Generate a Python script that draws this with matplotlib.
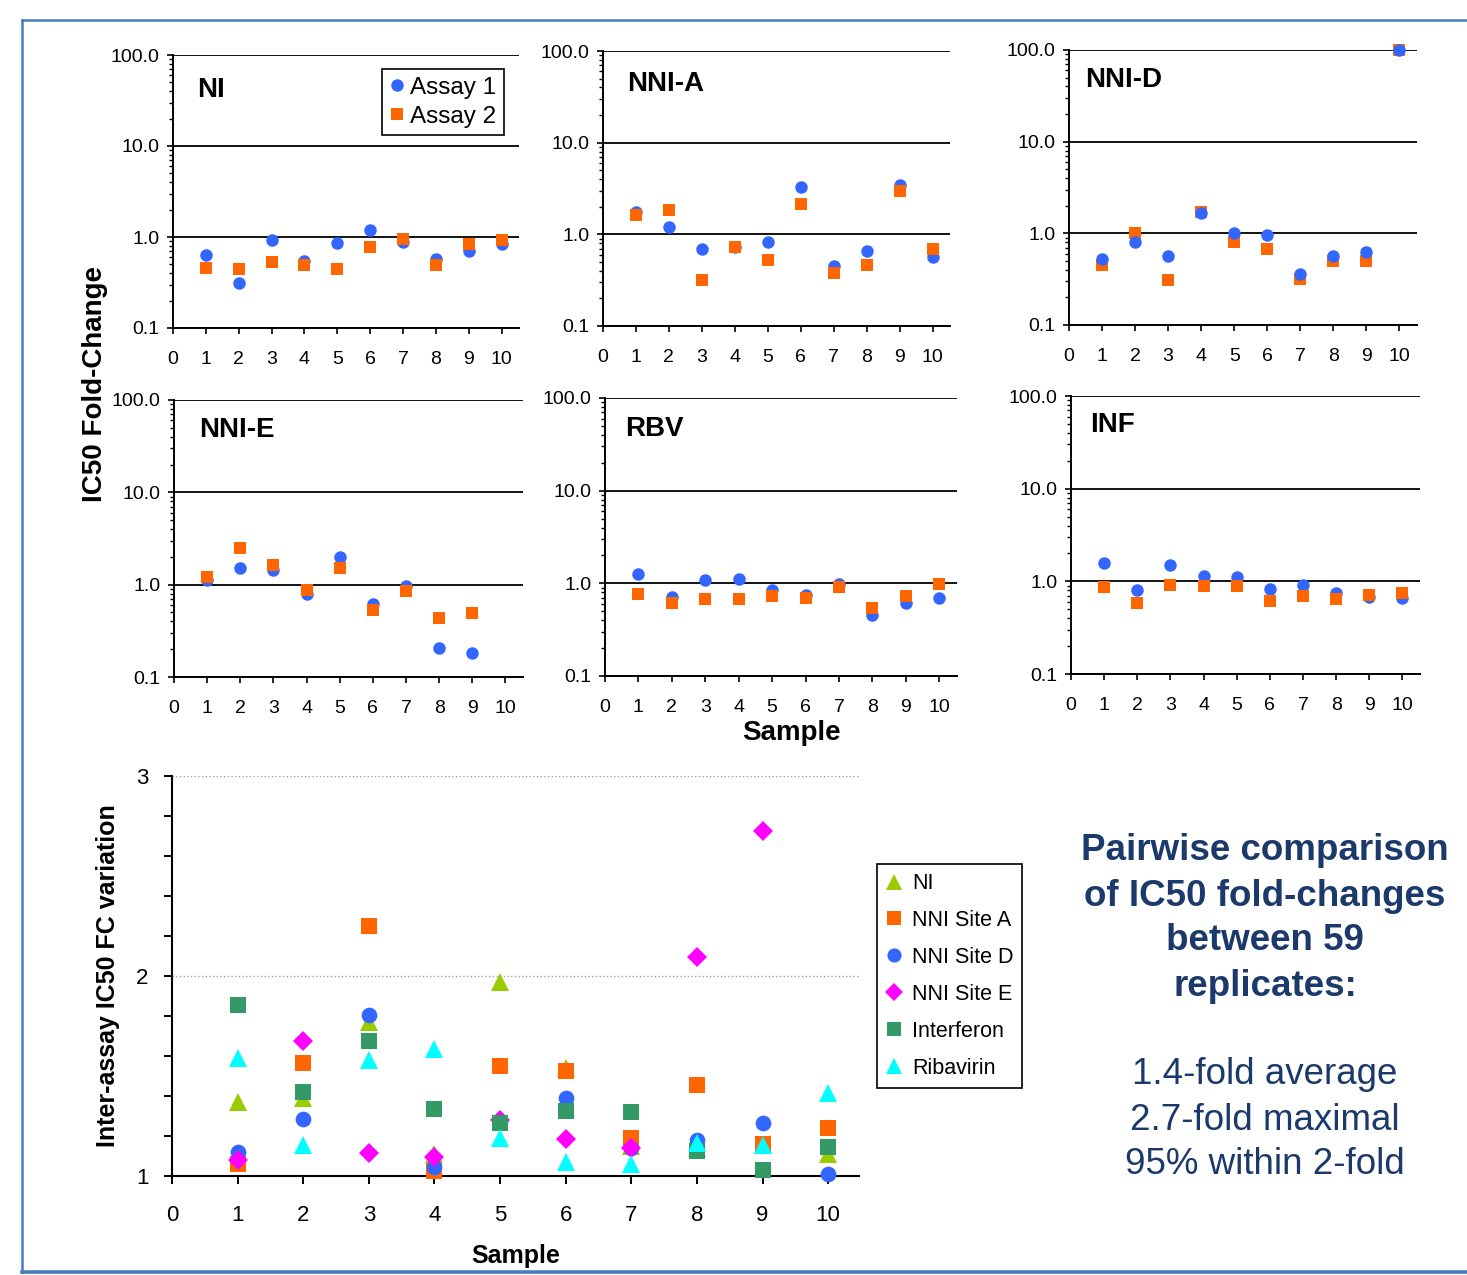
import numpy as np
import matplotlib
matplotlib.use("Agg")
import matplotlib.pyplot as plt
from matplotlib.lines import Line2D
from matplotlib.ticker import FixedLocator, FuncFormatter, NullFormatter

plt.rcParams['font.family'] = ['Liberation Sans', 'DejaVu Sans']

W, H = 1467, 1275

# ---- data: IC50 fold-change per sample, two assays ----
samples = [1, 2, 3, 4, 5, 6, 7, 8, 9, 10]

ni_assay1 = [0.63, 0.31, 0.93, 0.55, 0.85, 1.19, 0.89, 0.57, 0.71, 0.83]
ni_assay2 = [0.46, 0.44, 0.53, 0.49, 0.44, 0.78, 0.96, 0.49, 0.84, 0.93]

nnia_assay1 = [1.74, 1.21, 0.70, 0.73, 0.82, 3.28, 0.45, 0.66, 3.48, 0.57]
nnia_assay2 = [1.64, 1.86, 0.315, 0.73, 0.53, 2.14, 0.376, 0.46, 2.97, 0.70]

nnid_assay1 = [0.53, 0.80, 0.57, 1.65, 1.02, 0.95, 0.357, 0.57, 0.63, 100.0]
nnid_assay2 = [0.455, 1.01, 0.31, 1.70, 0.80, 0.67, 0.315, 0.50, 0.50, 100.0]

nnie_assay1 = [1.13, 1.50, 1.45, 0.80, 1.98, 0.62, 0.97, 0.208, 0.18]
nnie_assay2 = [1.22, 2.49, 1.63, 0.88, 1.50, 0.53, 0.85, 0.44, 0.49]

rbv_assay1 = [1.25, 0.71, 1.08, 1.11, 0.85, 0.75, 0.98, 0.45, 0.62, 0.69]
rbv_assay2 = [0.77, 0.61, 0.67, 0.67, 0.73, 0.69, 0.91, 0.545, 0.73, 0.98]

inf_assay1 = [1.56, 0.80, 1.51, 1.15, 1.12, 0.83, 0.91, 0.74, 0.67, 0.66]
inf_assay2 = [0.86, 0.58, 0.91, 0.88, 0.88, 0.62, 0.69, 0.65, 0.72, 0.75]

panel_names = ["NI", "NNI-A", "NNI-D", "NNI-E", "RBV", "INF"]
panel_assay1 = [ni_assay1, nnia_assay1, nnid_assay1, nnie_assay1, rbv_assay1, inf_assay1]
panel_assay2 = [ni_assay2, nnia_assay2, nnid_assay2, nnie_assay2, rbv_assay2, inf_assay2]

# ---- data: inter-assay variation ----
var_labels = ["NI", "NNI Site A", "NNI Site D", "NNI Site E", "Interferon", "Ribavirin"]
var_ni = [1.37, 1.39, 1.77, 1.11, 1.97, 1.54, 1.15, 1.14, 1.155, 1.11]
var_site_a = [1.06, 1.565, 2.25, 1.027, 1.55, 1.527, 1.19, 1.453, 1.158, 1.238]
var_site_d = [1.12, 1.287, 1.805, 1.043, 1.27, 1.39, 1.138, 1.18, 1.263, 1.008]
var_site_e = [1.08, 1.677, 1.117, 1.095, 1.28, 1.183, 1.138, 2.093, 2.725]
var_interferon = [1.853, 1.42, 1.677, 1.333, 1.263, 1.327, 1.318, 1.127, 1.03, 1.143]
var_ribavirin = [1.59, 1.155, 1.58, 1.635, 1.188, 1.068, 1.058, 1.163, 1.155, 1.413]
var_series = [var_ni, var_site_a, var_site_d, var_site_e, var_interferon, var_ribavirin]

# ---- layout / style ----
blue = "#3366ff"
orange = "#ff6600"
var_colors = ["#99cc00", "#ff6600", "#3366ff", "#ff00ff", "#339966", "#00ffff"]
var_markers = ["^", "s", "o", "D", "s", "^"]
var_sizes = [12.5, 11.3, 11.3, 10.5, 11.3, 12.5]
navy = "#1b3a6b"

# (left, top, right, bottom) in pixels
panel_boxes = [(173, 55, 519, 328), (603, 51, 950, 326), (1069, 50, 1417, 325),
               (174, 400, 523, 677), (605, 398, 957, 676), (1071, 396, 1420, 674)]
title_pos = [(0.07, 0.87), (0.07, 0.88), (0.046, 0.89),
             (0.072, 0.89), (0.057, 0.89), (0.054, 0.895)]


def add_px_axes(fig, box):
    l, t, r, b = box
    return fig.add_axes([l / W, 1 - b / H, (r - l) / W, (b - t) / H])


fig = plt.figure(figsize=(W / 100, H / 100), dpi=100)

for i, name in enumerate(panel_names):
    ax = add_px_axes(fig, panel_boxes[i])
    a1 = panel_assay1[i]
    a2 = panel_assay2[i]
    ax.plot(samples[:len(a1)], a1, 'o', color=blue, ms=9, mew=0, label="Assay 1",
            clip_on=False, zorder=3)
    ax.plot(samples[:len(a2)], a2, 's', color=orange, ms=8.3, mew=0, label="Assay 2",
            clip_on=False, zorder=3 if name != "NNI-D" else 2.5)
    ax.set_yscale('log')
    ax.set_ylim(0.1, 100)
    ax.set_xlim(0, 10.53)
    ax.yaxis.set_major_locator(FixedLocator([0.1, 1, 10, 100]))
    ax.yaxis.set_major_formatter(FuncFormatter(lambda v, p: "%.1f" % v))
    minors = [m * d for d in (0.1, 1, 10) for m in range(2, 10)]
    ax.yaxis.set_minor_locator(FixedLocator(minors))
    ax.yaxis.set_minor_formatter(NullFormatter())
    ax.set_xticks(range(0, 11))
    ax.tick_params(axis='x', direction='out', length=4.5, width=1.2, labelsize=14, pad=12)
    ax.tick_params(axis='y', which='major', direction='out', length=4.5, width=1.2,
                   labelsize=14, pad=5)
    ax.tick_params(axis='y', which='minor', direction='out', length=3.2, width=1.0)
    ax.grid(True, axis='y', which='major', color='black', lw=1.3)
    ax.set_axisbelow(True)
    for s in ('top', 'right'):
        ax.spines[s].set_visible(False)
    for s in ('left', 'bottom'):
        ax.spines[s].set_linewidth(1.4)
    ax.text(title_pos[i][0], title_pos[i][1], name, transform=ax.transAxes,
            fontsize=20, fontweight='bold', ha='left', va='center')
    if i == 0:
        leg = ax.legend(loc='upper right', bbox_to_anchor=(0.957, 0.949), fontsize=17.5,
                        frameon=True, fancybox=False, edgecolor='black', framealpha=1,
                        handlelength=0.6, handletextpad=0.25, borderpad=0.32,
                        labelspacing=0.28, borderaxespad=0, markerscale=1.0)
        leg.get_frame().set_linewidth(1.2)

fig.text(95 / W, 1 - 384 / H, "IC50 Fold-Change", rotation=90, fontsize=20,
         fontweight='bold', ha='center', va='center')
fig.text(791 / W, 1 - 733 / H, "Sample", fontsize=20, fontweight='bold',
         ha='center', va='center')

# ---- bottom chart ----
bx = add_px_axes(fig, (172, 776, 859, 1176))
for vals, lab, c, m, ms in zip(var_series, var_labels, var_colors, var_markers, var_sizes):
    bx.plot(samples[:len(vals)], vals, m, color=c, ms=ms, mew=0, label=lab,
            clip_on=False, zorder=3)
bx.set_xlim(0, 10.47)
bx.set_ylim(1, 3)
bx.set_xticks(range(0, 11))
bx.set_yticks([1, 2, 3])
bx.yaxis.set_minor_locator(FixedLocator([1.2, 1.4, 1.6, 1.8, 2.2, 2.4, 2.6, 2.8]))
bx.tick_params(axis='x', direction='out', length=6, width=1.4, labelsize=16, pad=15)
bx.tick_params(axis='y', which='both', direction='out', length=6, width=1.4,
               labelsize=16, pad=11)
bx.grid(True, axis='y', which='major', color='#a0a0a0', lw=1.0, ls=':')
bx.set_axisbelow(True)
for s in ('top', 'right'):
    bx.spines[s].set_visible(False)
for s in ('left', 'bottom'):
    bx.spines[s].set_linewidth(1.5)

fig.text(516 / W, 1 - 1256 / H, "Sample", fontsize=18, fontweight='bold',
         ha='center', va='center')
fig.text(108 / W, 1 - 976 / H, "Inter-assay IC50 FC variation", rotation=90,
         fontsize=18, fontweight='bold', ha='center', va='center')

leg2 = bx.legend(loc='upper left', bbox_to_anchor=(877 / W, 1 - 864 / H),
                 bbox_transform=fig.transFigure, fontsize=15.5, frameon=True,
                 fancybox=False, edgecolor='black', framealpha=1, handlelength=0.7,
                 handletextpad=0.5, borderpad=0.42, labelspacing=0.74,
                 borderaxespad=0, markerscale=0.9)
leg2.get_frame().set_linewidth(1.2)

# ---- summary text ----
head = ["Pairwise comparison", "of IC50 fold-changes", "between 59", "replicates:"]
for k, line in enumerate(head):
    fig.text(1265 / W, 1 - (851 + 45 * k) / H, line, fontsize=26.5, fontweight='bold',
             color=navy, ha='center', va='center')
stats = ["1.4-fold average", "2.7-fold maximal", "95% within 2-fold"]
for k, line in enumerate(stats):
    fig.text(1265 / W, 1 - (1075 + 45 * k) / H, line, fontsize=26.5,
             color=navy, ha='center', va='center')

# ---- slide frame ----
frame_c = "#4a7ebb"
fig.add_artist(Line2D([22 / W, 22 / W], [1 - 20 / H, 1 - 1272 / H], color=frame_c, lw=1.8,
                      transform=fig.transFigure))
fig.add_artist(Line2D([22 / W, 1.0], [1 - 20 / H, 1 - 20 / H], color=frame_c, lw=1.8,
                      transform=fig.transFigure))
fig.add_artist(Line2D([22 / W, 1.0], [1 - 1272 / H, 1 - 1272 / H], color=frame_c, lw=2.6,
                      transform=fig.transFigure))

fig.savefig("out.png", dpi=100)
